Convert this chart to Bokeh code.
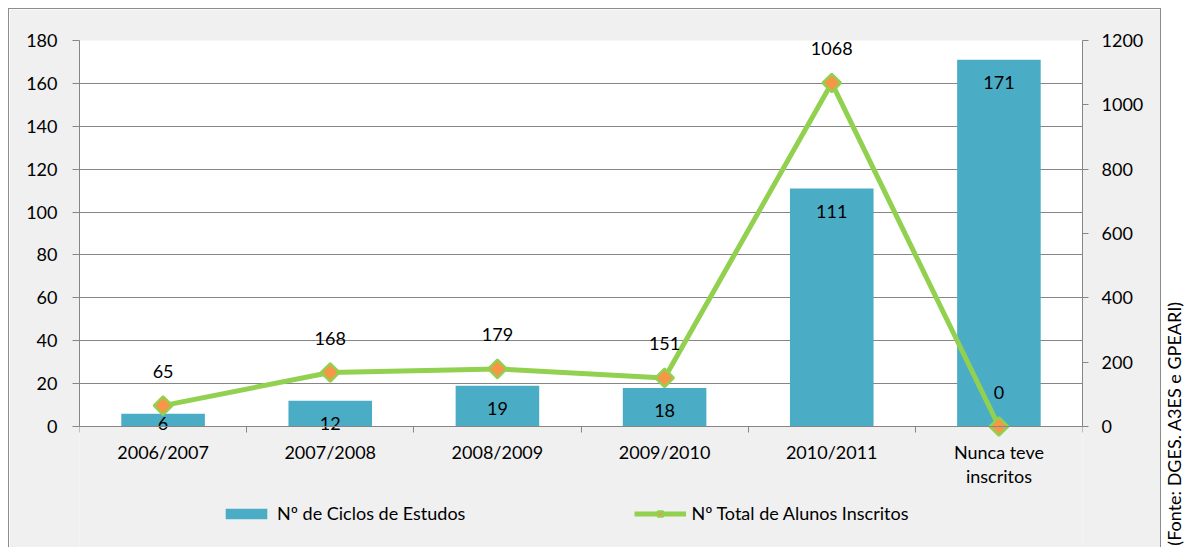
from math import pi
from bokeh.plotting import figure
from bokeh.models import (Range1d, LinearAxis, FixedTicker, Legend, LegendItem)
from bokeh.layouts import row
from bokeh.core.properties import value
from bokeh.embed import file_html
from bokeh.resources import INLINE

categories = ["2006/2007", "2007/2008", "2008/2009", "2009/2010", "2010/2011", "Nunca teve\ninscritos"]
ciclos = [6, 12, 19, 18, 111, 171]
alunos = [65, 168, 179, 151, 1068, 0]
left_ticks = [0, 20, 40, 60, 80, 100, 120, 140, 160, 180]
right_ticks = [0, 200, 400, 600, 800, 1000, 1200]
bar_name = "Nº de Ciclos de Estudos"
line_name = "Nº Total de Alunos Inscritos"
source_text = "(Fonte: DGES.  A3ES e GPEARI)"

FONT = "Lato"
FS = "18px"
GRAY = "#868686"
BAR = "#4bacc6"
GREEN = "#92d050"
ORANGE = "#f79646"

# layout (pixels)
W, H = 1153, 539
TOP, LEFT, RIGHT = 31, 70, 80
PLOT_H = 386                 # height of the 0..max value area
BELOW = H - TOP - PLOT_H     # frame continues below the value axis

n = len(categories)
xs = [i + 0.5 for i in range(n)]
ymax = max(left_ticks)
rmax = max(right_ticks)
y_lo = -ymax * BELOW / PLOT_H
r_lo = -rmax * BELOW / PLOT_H

p = figure(width=W, height=H, x_range=Range1d(0, n), y_range=Range1d(y_lo, ymax),
           output_backend="svg", toolbar_location=None,
           min_border_left=LEFT, min_border_right=RIGHT, min_border_top=TOP, min_border_bottom=0,
           background_fill_color="#f0f0f0", border_fill_color="#f0f0f0",
           outline_line_color=None)
p.styles = {"border-top": "1px solid #8c8c8c", "border-left": "1px solid #8c8c8c",
            "border-right": "1px solid #8c8c8c"}
p.extra_y_ranges = {"alunos": Range1d(r_lo, rmax)}

# white plotting area
p.quad(left=0, right=n, bottom=0, top=ymax, fill_color="white", line_color=None, level="image")

bars = p.vbar(x=xs, top=ciclos, width=0.5, fill_color=BAR, line_color=None)
line = p.line(xs, alunos, y_range_name="alunos", line_color=GREEN, line_width=5)
pts = p.scatter(xs, alunos, y_range_name="alunos", marker="square", angle=pi / 4, size=13,
                fill_color=ORANGE, line_color=GREEN, line_width=2.5)

bar_label_y = [max(v, 12) for v in ciclos]
p.text(xs, bar_label_y, text=[str(v) for v in ciclos], y_offset=23,
       text_align="center", text_baseline="middle", text_font=value(FONT),
       text_font_size=FS, text_color="black")
p.text(xs, alunos, text=[str(v) for v in alunos], y_range_name="alunos", y_offset=-34,
       text_align="center", text_baseline="middle", text_font=value(FONT),
       text_font_size=FS, text_color="black")

# grid
p.xgrid.visible = False
p.ygrid.ticker = FixedTicker(ticks=left_ticks)
p.ygrid.grid_line_color = GRAY

# left axis
ya = p.yaxis[0]
ya.ticker = FixedTicker(ticks=left_ticks)
ya.bounds = (0, ymax)
ya.axis_line_color = GRAY
ya.major_tick_line_color = GRAY
ya.major_tick_out = 7
ya.major_tick_in = 0
ya.minor_tick_line_color = None
ya.major_label_standoff = 15
ya.major_label_text_font = FONT
ya.major_label_text_font_size = FS
ya.major_label_text_color = "black"

# right axis
ra = LinearAxis(y_range_name="alunos", ticker=FixedTicker(ticks=right_ticks), bounds=(0, rmax))
ra.axis_line_color = GRAY
ra.major_tick_line_color = GRAY
ra.major_tick_out = 6
ra.major_tick_in = 0
ra.minor_tick_line_color = None
ra.major_label_standoff = 13
ra.major_label_text_font = FONT
ra.major_label_text_font_size = FS
ra.major_label_text_color = "black"
p.add_layout(ra, "right")

# bottom axis, at value 0
xa = p.xaxis[0]
xa.fixed_location = 0
xa.ticker = FixedTicker(ticks=xs, minor_ticks=list(range(n + 1)))
xa.major_label_overrides = {x: c for x, c in zip(xs, categories)}
xa.axis_line_color = GRAY
xa.major_tick_line_color = None
xa.minor_tick_line_color = GRAY
xa.minor_tick_out = 6
xa.minor_tick_in = 0
xa.major_label_standoff = 8
xa.major_label_text_font = FONT
xa.major_label_text_font_size = FS
xa.major_label_text_color = "black"
xa.major_label_text_line_height = 1.1

legend = Legend(items=[LegendItem(label=bar_name, renderers=[bars]),
                       LegendItem(label=line_name, renderers=[line, pts])],
                orientation="horizontal", location=(141, 24), padding=0, margin=0,
                glyph_width=52, glyph_height=13, label_standoff=5, spacing=169,
                border_line_color=None, background_fill_alpha=0,
                label_text_font=FONT, label_text_font_size=FS, label_text_color="black")
p.add_layout(legend)

W2, H2 = 24, H + 1
p2 = figure(width=W2, height=H2, x_range=Range1d(0, W2), y_range=Range1d(0, H2),
            output_backend="svg", toolbar_location=None, min_border=0,
            x_axis_type=None, y_axis_type=None, outline_line_color=None,
            background_fill_color="white", border_fill_color="white")
p2.xgrid.visible = False
p2.ygrid.visible = False
p2.text(x=[12], y=[3], text=[source_text], angle=pi / 2,
        text_align="left", text_baseline="middle", text_font=value(FONT),
        text_font_size=FS, text_color="black")

layout = row(p, p2, spacing=0, margin=(8, 0, 0, 8))
open("out.html", "w").write(file_html(layout, INLINE))
